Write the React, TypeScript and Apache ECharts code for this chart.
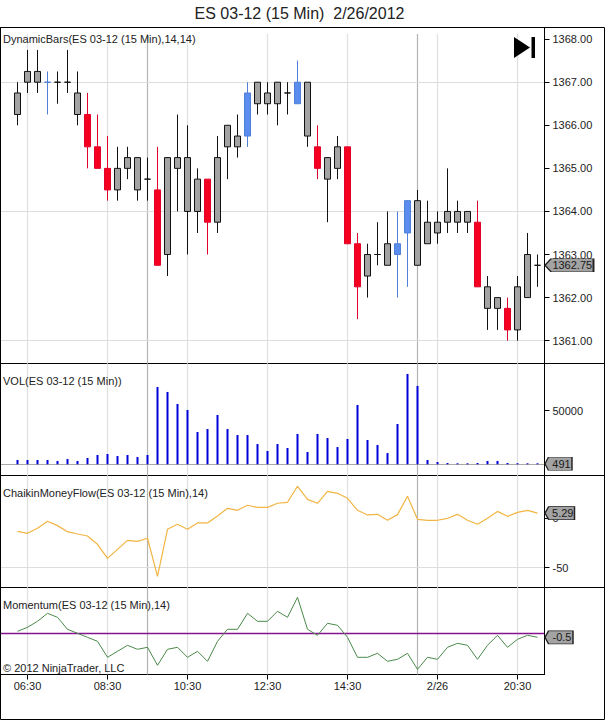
import React, { useEffect, useRef } from "react";
import * as echarts from "echarts";

const openPrice = [1366.25,1367,1367,1367,1367,1367,1366.25,1366.25,1365.5,1365,1364.5,1365,1364.5,1364.75,1364.5,1363,1365,1364,1364,1364.75,1363.75,1365.5,1365.5,1365.75,1366.5,1366.5,1366.5,1366.75,1366.5,1365.75,1365.5,1364.75,1365,1365.5,1363.25,1362.5,1363,1362.75,1363,1363.5,1362.75,1363.25,1363.5,1363.75,1363.75,1363.75,1363.75,1361.75,1361.75,1361.75,1361.25,1362,1362.75];
const closePrice = [1366.75,1367.25,1367.25,1367,1367,1367,1366.75,1365.5,1365,1364.5,1365,1365.25,1365.25,1364.75,1362.75,1365.25,1365.25,1365.25,1364.75,1363.75,1365.25,1366,1365.75,1366.75,1367,1366.75,1367,1366.75,1367,1367,1365,1365.25,1365.5,1363.25,1362.25,1363,1363,1363.25,1363.25,1364.25,1364.25,1363.75,1363.75,1364,1364,1364,1362.25,1362.25,1362,1361.25,1362.25,1363,1362.75];
const lowPrice = [1366,1366.75,1366.75,1366.25,1366.5,1366.75,1366,1365,1365,1364.25,1364.25,1364.75,1364.25,1364.25,1362.75,1362.5,1364,1363,1363.5,1363,1363.5,1364.75,1365.25,1365.5,1366.25,1366.25,1366,1366.25,1366.5,1365.5,1364.75,1363.75,1364.75,1363.25,1361.5,1362,1362.75,1362.75,1362,1362.25,1362.75,1363.25,1363.25,1363.5,1363.5,1363.5,1362.25,1361.25,1361.25,1361,1361,1362,1362.25];
const highPrice = [1367,1367.75,1367.75,1367.25,1367.25,1367.75,1367.25,1366.75,1366.25,1365.75,1365.5,1365.5,1365.25,1365.25,1365.5,1365.25,1366.25,1366,1365,1364.75,1365.75,1366,1366.25,1367,1367,1367,1367,1367,1367.5,1367,1366,1365.25,1365.75,1365.5,1363.5,1363.25,1363.75,1364,1364,1364.25,1364.5,1364.25,1364,1365,1364.25,1364,1364.25,1362.5,1362,1362,1362.5,1363.5,1363];
const barKind = ["g","g","g","b","g","g","g","r","r","r","g","g","g","g","r","g","g","g","g","r","g","g","g","b","g","g","g","g","b","g","r","g","g","r","r","g","g","g","b","b","g","g","g","g","g","g","r","g","g","r","g","g","g"];
const volume = [4000,4000,4000,4000,3100,4900,3100,5900,8700,9600,7700,8700,6800,8700,72100,67500,56300,50700,30100,32900,46000,32900,27300,27300,18900,12400,18900,15200,28300,11500,28300,24500,16100,23600,55300,22700,18000,10500,37600,84300,73100,4000,2100,1200,400,300,1200,3100,3100,1200,1000,900,491];
const chaikin = [-13.2,-15.2,-10.1,-3,-7.4,-13.5,-15.9,-17.9,-26.3,-40.5,-31.4,-22.3,-23.3,-20.2,-58.7,-11.1,-6.1,-11.1,-4.7,-4.7,2.4,10.1,8.1,13.2,11.1,11.1,15.2,16.2,32.4,19.2,15.2,27.3,25.3,20.2,8.1,3.4,4,-2,3.7,22.3,-1,-2,-2,0,4,-2,-6,0,7,2,6,8,5.29];
const momentum = [0.25,0.75,1.5,2.5,2,0.5,0,-0.5,-1,-3,-2.25,-1.5,-2,-1.75,-4,-2,-1.75,-3,-2.25,-3.5,-1,0.5,0.5,2.5,1.5,1.5,2.75,2,4.5,0.5,-0.25,1.25,1,-0.5,-3,-3,-2.5,-3.5,-3.25,-2.5,-4.5,-3,-3.25,-1.75,-1.25,-1.5,-3.25,-1.5,-0.25,-1.75,-0.75,-0.25,-0.5];

const timeTickIndex = [1, 9, 17, 25, 33, 42, 50];
const timeTickLabel = ["06:30", "08:30", "10:30", "12:30", "14:30", "2/26", "20:30"];
const sessionBreakIndex = [13, 40];
const priceTicks = [1361, 1362, 1363, 1364, 1365, 1366, 1367, 1368];
const priceGrid = [1361, 1364, 1367];
const volumeTicks = [50000];
const chaikinTicks = [-50, 0];

const FONT = "'Liberation Sans', Arial, sans-serif";
const xMin = -1.7;
const xMax = 52.7;
const last = volume.length - 1;
const idx = volume.map((_, i) => i);
const bodyFill: Record<string, string> = { g: "#a3a3a3", r: "#f5001e", b: "#5b8def" };
const bodyLine: Record<string, string> = { g: "#111111", r: "#e0002a", b: "#4f7fd6" };

const panels = [
  { top: 27.5, height: 336 },
  { top: 363.5, height: 112 },
  { top: 475.5, height: 112 },
  { top: 587.5, height: 87 },
];

function verticalLines(yFrom?: number, yTo?: number) {
  const make = (v: number, color: string) => {
    const style = { lineStyle: { color, width: 1.2, type: "solid" as const } };
    return yFrom === undefined
      ? { xAxis: v, ...style }
      : [{ coord: [v, yFrom], ...style }, { coord: [v, yTo] }];
  };
  return [
    ...timeTickIndex.map((v) => make(v, "#e0e0e0")),
    ...sessionBreakIndex.map((v) => make(v, "#b4b4b4")),
  ];
}

function markLines(vertical: any[], horizontal: number[], hColor = "#dddddd", hWidth = 1.2) {
  return {
    silent: true,
    symbol: "none",
    z: 0,
    animation: false,
    label: { show: false },
    data: [
      ...vertical,
      ...horizontal.map((v) => ({ yAxis: v, lineStyle: { color: hColor, width: hWidth, type: "solid" } })),
    ],
  };
}

function tag(value: number, text: string, w: number, h: number, offsetLabel: number) {
  return {
    silent: true,
    animation: false,
    symbol: "path://M0 6.5L6 0L48 0L48 13L6 13Z",
    symbolSize: [w, h],
    symbolKeepAspect: false,
    symbolOffset: [7.5 + w / 2, 0],
    itemStyle: { color: "#a3a3a3", borderColor: "#222222", borderWidth: 1 },
    label: {
      show: true,
      position: "inside",
      formatter: text,
      color: "#1a1a1a",
      fontSize: 11,
      fontFamily: FONT,
      offset: [offsetLabel, 0],
    },
    data: [{ coord: [last, value] }],
  };
}

function xAxisFor(i: number, showLabels: boolean) {
  return {
    type: "value",
    gridIndex: i,
    min: xMin,
    max: xMax,
    axisLine: { show: false, onZero: false },
    splitLine: { show: false },
    axisTick: showLabels
      ? { show: true, length: 5, customValues: timeTickIndex, lineStyle: { color: "#000" } }
      : { show: false },
    axisLabel: showLabels
      ? {
          show: true,
          customValues: timeTickIndex,
          margin: 6,
          fontSize: 11,
          fontFamily: FONT,
          color: "#222",
          hideOverlap: false,
          formatter: (v: number) => timeTickLabel[timeTickIndex.indexOf(Math.round(v))] ?? "",
        }
      : { show: false },
  };
}

function yAxisFor(i: number, min: number, max: number, ticks: number[], fmt: (v: number) => string) {
  return {
    type: "value",
    gridIndex: i,
    position: "right",
    min,
    max,
    scale: true,
    splitLine: { show: false },
    axisLine: { show: true, onZero: false, lineStyle: { color: "#000" } },
    axisTick: { show: ticks.length > 0, length: 5, customValues: ticks, lineStyle: { color: "#000" } },
    axisLabel: {
      show: ticks.length > 0,
      customValues: ticks,
      margin: 8,
      fontSize: 11,
      fontFamily: FONT,
      color: "#222",
      formatter: fmt,
      showMinLabel: true,
      showMaxLabel: true,
    },
  };
}

function panelTitle(text: string, top: number) {
  return {
    text,
    left: 3,
    top,
    padding: 0,
    textStyle: { fontSize: 11, fontWeight: "normal", color: "#222", fontFamily: FONT },
  };
}

function separator(y: number) {
  return {
    type: "line",
    shape: { x1: 544.5, y1: y, x2: 604.5, y2: y },
    style: { stroke: "#000", lineWidth: 1 },
    silent: true,
    z: 10,
  };
}

export default function App() {
  const ref = useRef<HTMLDivElement>(null);
  useEffect(() => {
    document.body.style.margin = "0";
    const chart = echarts.init(ref.current!, undefined, { renderer: "svg" });
    const candles = idx.map((i) => {
      const k = barKind[i];
      return {
        value: [i, openPrice[i], closePrice[i], lowPrice[i], highPrice[i]],
        itemStyle: { color: bodyFill[k], color0: bodyFill[k], borderColor: bodyLine[k], borderColor0: bodyLine[k], borderColorDoji: bodyLine[k] },
      };
    });
    chart.setOption({
      animation: false,
      backgroundColor: "#ffffff",
      title: [
        {
          text: "ES 03-12 (15 Min)  2/26/2012",
          left: 299.5,
          top: 5,
          padding: 0,
          textAlign: "center",
          textStyle: { fontSize: 16, fontWeight: "normal", color: "#222", fontFamily: FONT },
        },
        panelTitle("DynamicBars(ES 03-12 (15 Min),14,14)", 33),
        panelTitle("VOL(ES 03-12 (15 Min))", 375.5),
        panelTitle("ChaikinMoneyFlow(ES 03-12 (15 Min),14)", 487.5),
        panelTitle("Momentum(ES 03-12 (15 Min),14)", 599),
        panelTitle("\u00A9 2012 NinjaTrader, LLC", 662),
      ],
      grid: panels.map((p) => ({
        left: 0.5,
        width: 544,
        top: p.top,
        height: p.height,
        show: true,
        borderColor: "#000",
        borderWidth: 1,
        backgroundColor: "transparent",
        containLabel: false,
      })),
      xAxis: [xAxisFor(0, false), xAxisFor(1, false), xAxisFor(2, false), xAxisFor(3, true)],
      yAxis: [
        yAxisFor(0, 1360.47, 1368.27, priceTicks, (v) => v.toFixed(2)),
        yAxisFor(1, -10450, 94030, volumeTicks, (v) => String(v)),
        yAxisFor(2, -70, 43.3, chaikinTicks, (v) => String(v)),
        yAxisFor(3, -5.15, 5.725, [], (v) => String(v)),
      ],
      graphic: [
        {
          type: "rect",
          shape: { x: 0.5, y: 27.5, width: 604, height: 692 },
          style: { fill: "none", stroke: "#000", lineWidth: 1 },
          silent: true,
          z: 10,
        },
        separator(363.5),
        separator(475.5),
        separator(587.5),
        {
          type: "polygon",
          shape: { points: [[514, 37], [530, 47.5], [514, 58]] },
          style: { fill: "#000" },
          silent: true,
          z: 10,
        },
        {
          type: "rect",
          shape: { x: 531.5, y: 37, width: 3.5, height: 21 },
          style: { fill: "#000" },
          silent: true,
          z: 10,
        },
      ],
      series: [
        {
          type: "candlestick",
          name: "DynamicBars",
          xAxisIndex: 0,
          yAxisIndex: 0,
          barWidth: 6,
          itemStyle: { borderWidth: 1 },
          data: candles,
          clip: false,
          markLine: markLines(verticalLines(1360.47, 1368.12), priceGrid),
          markPoint: tag(closePrice[last], "1362.75", 48.5, 13, 3),
        },
        {
          type: "bar",
          name: "VOL",
          xAxisIndex: 1,
          yAxisIndex: 1,
          barWidth: 2,
          barMinHeight: 1,
          itemStyle: { color: "#0000d8" },
          data: idx.map((i) => [i, volume[i]]),
          markLine: markLines(verticalLines(), [0], "#aaaaaa", 1.2),
          markPoint: tag(volume[last], String(volume[last]), 27, 13, 3),
        },
        {
          type: "line",
          name: "ChaikinMoneyFlow",
          xAxisIndex: 2,
          yAxisIndex: 2,
          showSymbol: false,
          symbol: "none",
          lineStyle: { color: "#f2b544", width: 1.2 },
          data: idx.map((i) => [i, chaikin[i]]),
          markLine: markLines(verticalLines(), [-50]),
          markPoint: tag(chaikin[last], String(chaikin[last]), 29.5, 13, 3),
        },
        {
          type: "line",
          name: "Momentum",
          xAxisIndex: 3,
          yAxisIndex: 3,
          showSymbol: false,
          symbol: "none",
          lineStyle: { color: "#4a8a4a", width: 1 },
          data: idx.map((i) => [i, momentum[i]]),
          markLine: markLines(verticalLines(), [0], "#86128f", 1.3),
          markPoint: tag(momentum[last], String(momentum[last]), 28, 13, 3),
        },
      ],
    });
    return () => chart.dispose();
  }, []);
  return <div ref={ref} style={{ position: "absolute", left: 0, top: 0, width: 605, height: 720 }} />;
}
